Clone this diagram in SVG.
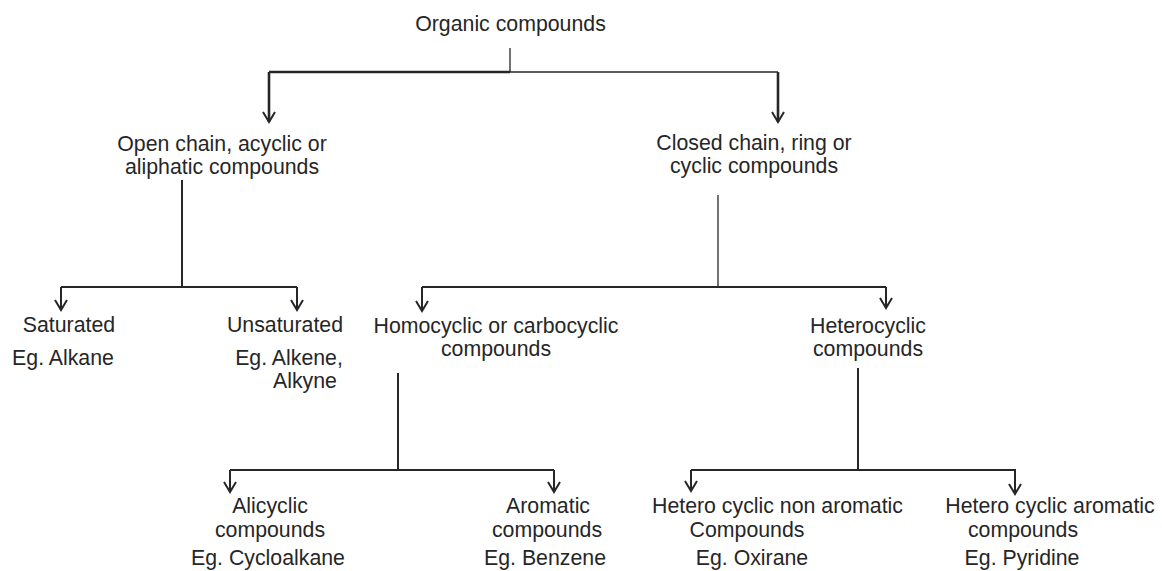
<svg xmlns="http://www.w3.org/2000/svg" width="1162" height="571" viewBox="0 0 1162 571">
<style>
text{font-family:"Liberation Sans",Arial,Helvetica,sans-serif;font-size:21.3px;fill:#262626;text-anchor:middle}
.ln{fill:none;stroke:#262626;stroke-width:2}
.thk{stroke-width:2.6}
.thn{stroke-width:1.3}
.ar{marker-end:url(#ah)}
</style>
<defs>
<marker id="ah" markerUnits="userSpaceOnUse" markerWidth="20" markerHeight="20" viewBox="-12 -10 14 20" refX="0" refY="0" orient="auto">
<path d="M-10,-6 L0,0 L-10,6" fill="none" stroke="#262626" stroke-width="2"/>
</marker>
</defs>
<rect width="1162" height="571" fill="#ffffff"/>
<g id="connectors">
<path class="ln thn" d="M510,48 V72"/>
<path class="ln thk" d="M510,72 H269"/>
<path class="ln" style="stroke-width:1.5" d="M510,72 H778"/>
<path class="ln thk ar" d="M269,72 V122"/>
<path class="ln thk ar" d="M778,72 V122"/>
<path class="ln" d="M182,180 V287"/>
<path class="ln" style="stroke-width:1.8" d="M61,287 H297"/>
<path class="ln ar" d="M61,287 V310"/>
<path class="ln ar" d="M297,287 V310"/>
<path class="ln thn" d="M718,195 V287"/>
<path class="ln" style="stroke-width:1.8" d="M422,287 H886"/>
<path class="ln ar" d="M422,287 V311"/>
<path class="ln ar" d="M886,287 V308"/>
<path class="ln" d="M398,373 V470"/>
<path class="ln" style="stroke-width:1.8" d="M230,470 H554"/>
<path class="ln ar" d="M230,470 V492"/>
<path class="ln ar" d="M554,470 V492"/>
<path class="ln" d="M858,368 V470"/>
<path class="ln" style="stroke-width:1.8" d="M691,470 H1016"/>
<path class="ln ar" d="M691,470 V491"/>
<path class="ln ar" d="M1015,470 V494"/>
</g>
<g id="organic"><text x="510.5" y="31">Organic compounds</text></g>
<g id="open-chain"><text x="222" y="151">Open chain, acyclic or</text><text x="222" y="174">aliphatic compounds</text></g>
<g id="closed-chain"><text x="754" y="150">Closed chain, ring or</text><text x="754" y="173">cyclic compounds</text></g>
<g id="saturated"><text x="69" y="332">Saturated</text><text x="63" y="365">Eg. Alkane</text></g>
<g id="unsaturated"><text x="285" y="332">Unsaturated</text><text x="289" y="365">Eg. Alkene,</text><text x="305" y="388">Alkyne</text></g>
<g id="homocyclic"><text x="496" y="333">Homocyclic or carbocyclic</text><text x="496" y="356">compounds</text></g>
<g id="heterocyclic"><text x="868" y="333">Heterocyclic</text><text x="868" y="356">compounds</text></g>
<g id="alicyclic"><text x="270" y="513">Alicyclic</text><text x="270" y="537">compounds</text><text x="268" y="565">Eg. Cycloalkane</text></g>
<g id="aromatic"><text x="548" y="513">Aromatic</text><text x="547" y="537">compounds</text><text x="545" y="565">Eg. Benzene</text></g>
<g id="hetero-non-aromatic"><text x="777.5" y="513">Hetero cyclic non aromatic</text><text x="747" y="537">Compounds</text><text x="752" y="565">Eg. Oxirane</text></g>
<g id="hetero-aromatic"><text x="1050" y="513">Hetero cyclic aromatic</text><text x="1023" y="537">compounds</text><text x="1022" y="565">Eg. Pyridine</text></g>
</svg>
